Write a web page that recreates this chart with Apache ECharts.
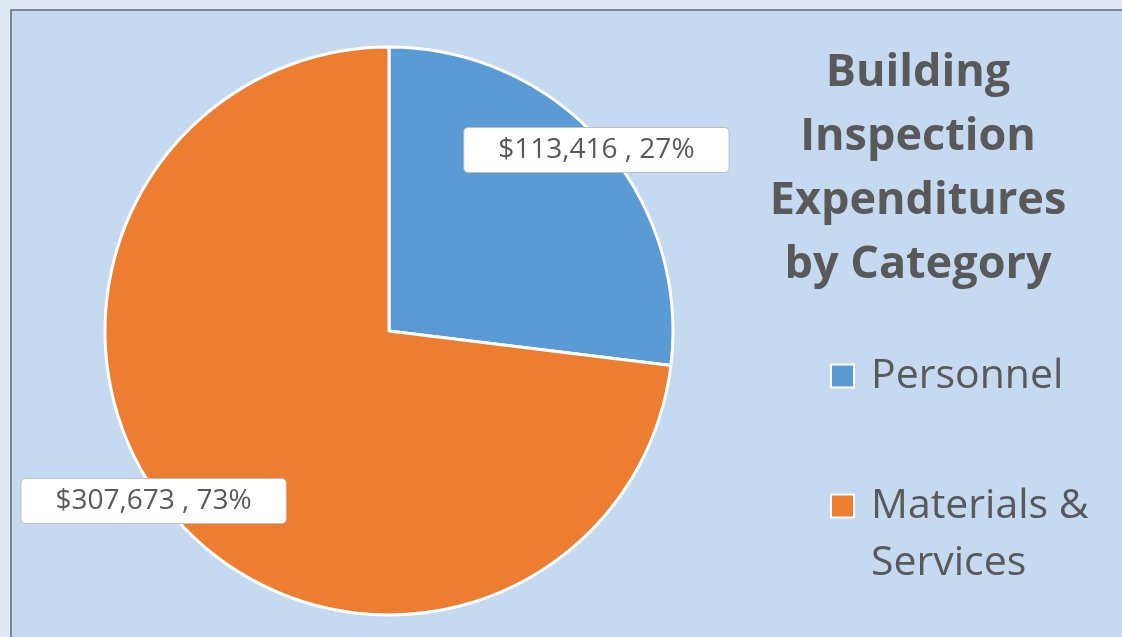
<!DOCTYPE html>
<html>
<head>
<meta charset="utf-8">
<script src="https://cdn.jsdelivr.net/npm/echarts@6/dist/echarts.min.js"></script>
<style>
  html, body { margin: 0; padding: 0; background: #dfe9f5; }
  #chart { width: 1122px; height: 637px; }
</style>
</head>
<body>
<div id="chart"></div>
<script>
// Expenditure categories and amounts (USD)
const categories = ['Personnel', 'Materials & Services'];
const amounts = [113416, 307673];
const legendLabels = ['Personnel', 'Materials &\nServices'];
const titleLines = ['Building', 'Inspection', 'Expenditures', 'by Category'];

const colors = ['#5b9bd5', '#ed7d31'];
const textColor = '#595959';
const font = '"Open Sans", "Noto Sans", sans-serif';

const pieData = categories.map((name, i) => ({ name, value: amounts[i] }));
const fmtMoney = v => '$' + v.toLocaleString('en-US');

const center = [389, 331];
const R = 284;
// nudges for the value callouts, per slice
const labelNudge = [[-6, 8], [-22, -19]];
// vertical centre of each legend swatch
const legendIconY = [376, 506];
const legendLine = 57;

// one legend block per category; blank leading lines keep the swatch
// level with the first line of a wrapped name
const legends = categories.map((name, i) => {
  const lines = legendLabels[i].split('\n').length;
  const blank = '\n'.repeat(lines - 1);
  const total = 2 * lines - 1;
  return {
    orient: 'vertical',
    left: 830,
    top: legendIconY[i] - total * legendLine / 2,
    padding: 0,
    itemWidth: 23,
    itemHeight: 23,
    icon: 'rect',
    selectedMode: false,
    formatter: n => blank + legendLabels[categories.indexOf(n)],
    textStyle: {
      fontFamily: font,
      fontSize: 41,
      lineHeight: legendLine,
      color: textColor,
      padding: [0, 0, 0, 12]
    },
    data: [name]
  };
});

const chart = echarts.init(document.getElementById('chart'));
chart.setOption({
  backgroundColor: '#dfe9f5',
  color: colors,
  animation: false,
  graphic: [{
    type: 'rect',
    z: -10,
    shape: { x: 11, y: 10, width: 1130, height: 650 },
    style: { fill: '#c5daf0', stroke: '#7b8794', lineWidth: 2 }
  }],
  title: {
    text: titleLines.join('\n'),
    left: 913,
    top: 36,
    textAlign: 'center',
    textStyle: {
      fontFamily: font,
      fontWeight: 'bold',
      fontSize: 45,
      lineHeight: 64,
      color: textColor
    }
  },
  legend: legends,
  series: [
    {
      type: 'pie',
      center,
      radius: [0, R],
      startAngle: 90,
      clockwise: true,
      silent: true,
      percentPrecision: 0,
      itemStyle: { borderColor: '#ffffff', borderWidth: 3 },
      label: { show: false },
      labelLine: { show: false },
      data: pieData
    },
    {
      // transparent companion ring that places the value labels near the rim
      type: 'pie',
      center,
      radius: [0, R * 2 - 4],
      startAngle: 90,
      clockwise: true,
      silent: true,
      percentPrecision: 0,
      itemStyle: { color: 'transparent', borderWidth: 0 },
      label: {
        show: true,
        position: 'inside',
        formatter: p => fmtMoney(p.value) + ' , ' + p.percent + '%',
        fontFamily: font,
        fontSize: 28,
        color: textColor,
        backgroundColor: '#ffffff',
        borderColor: '#bfbfbf',
        borderWidth: 1,
        borderRadius: 4,
        padding: [8, 34]
      },
      labelLayout: p => ({ dx: labelNudge[p.dataIndex][0], dy: labelNudge[p.dataIndex][1] }),
      labelLine: { show: false },
      data: pieData
    }
  ]
});
</script>
</body>
</html>
